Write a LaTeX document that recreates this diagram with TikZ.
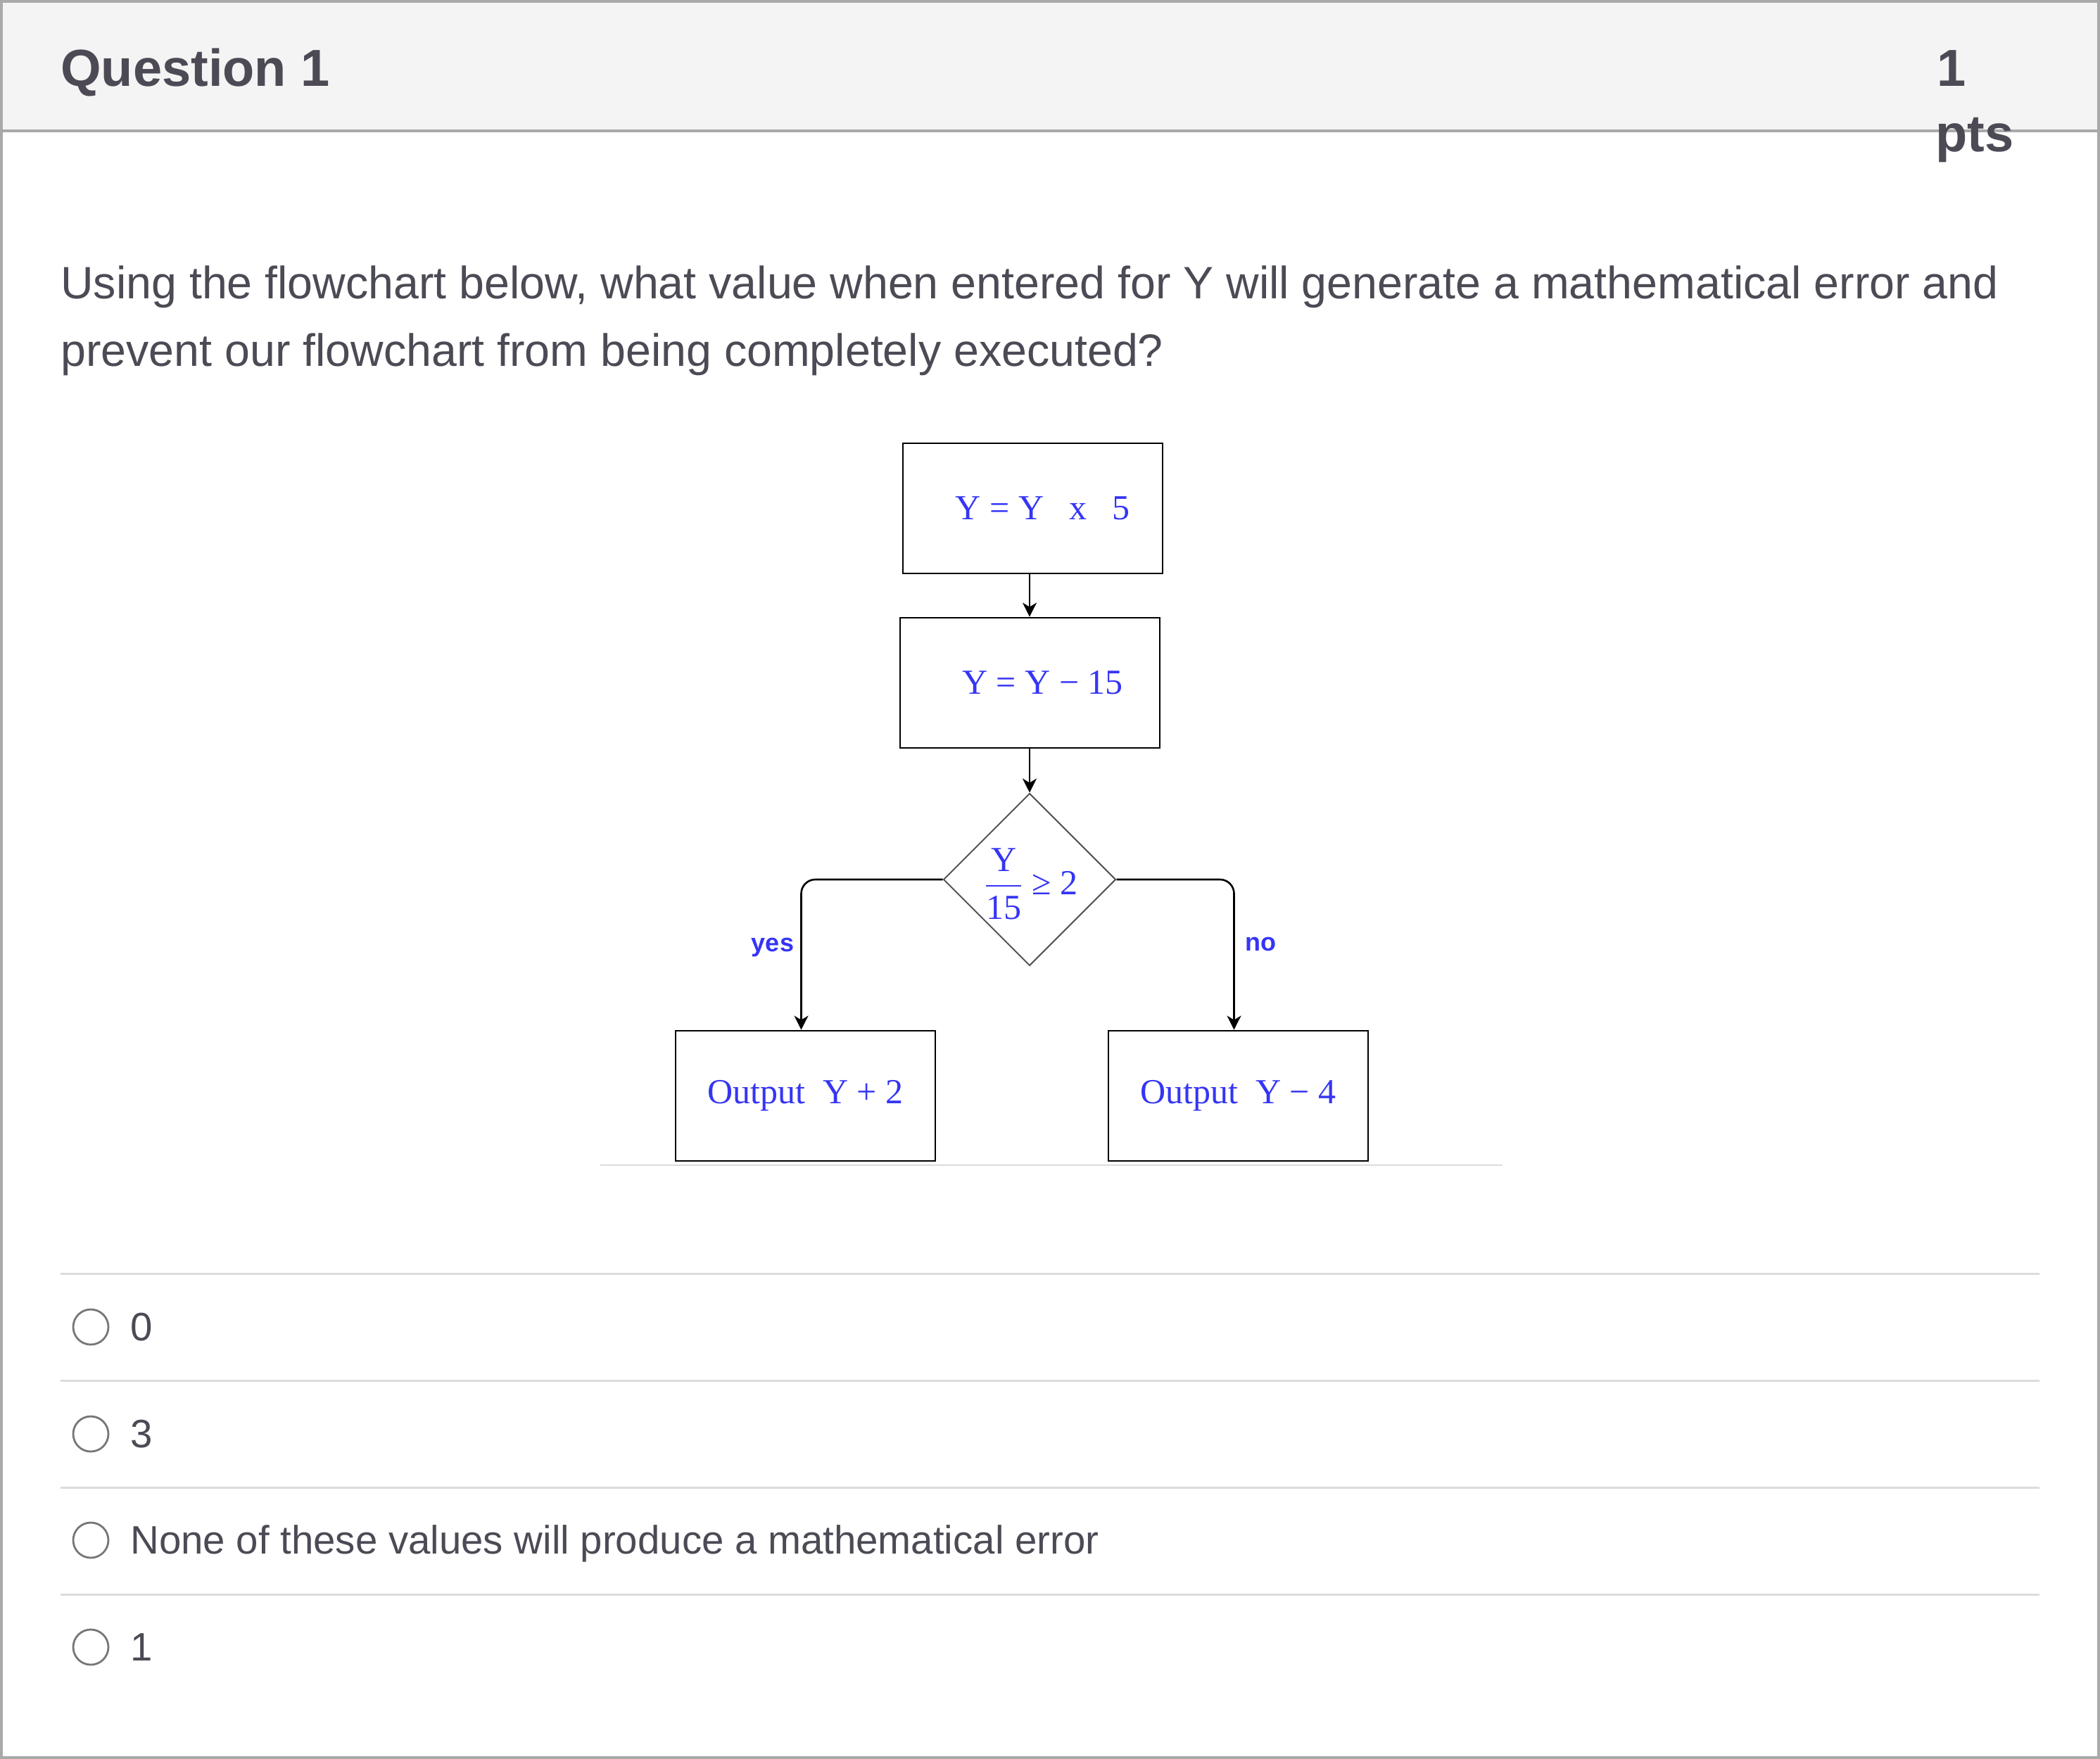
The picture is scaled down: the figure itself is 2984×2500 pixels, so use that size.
\documentclass[tikz,border=0pt]{standalone}
\usepackage{fontspec}
\usepackage{amsmath}
\setmainfont{Liberation Sans}
\newfontfamily\flowfont{Liberation Serif}
\usetikzlibrary{arrows.meta,shapes.geometric}
\definecolor{ink}{HTML}{4D4A55}
\definecolor{framec}{HTML}{A9A9A9}
\definecolor{hdrfill}{HTML}{F4F4F4}
\definecolor{sepc}{HTML}{DCDCDC}
\definecolor{radioc}{HTML}{767676}
\definecolor{fblue}{HTML}{3535F5}
\definecolor{dgray}{HTML}{555555}
\begin{document}
\begin{tikzpicture}[x=0.5pt,y=-0.5pt,
  hdrtext/.style={font=\fontsize{37pt}{44pt}\selectfont\bfseries, text=ink, inner sep=0, anchor=base west},
  qtext/.style={font=\fontsize{32.25pt}{38pt}\selectfont, text=ink, inner sep=0, anchor=base west},
  opttext/.style={font=\fontsize{28.2pt}{34pt}\selectfont, text=ink, inner sep=0, anchor=base west},
  radio/.style={circle, draw=radioc, line width=1.4pt, minimum size=25pt, inner sep=0},
  fbox/.style={rectangle, draw=black, line width=1.4pt, minimum width=184.5pt, minimum height=92.5pt, inner sep=0, font=\flowfont\fontsize{25pt}{30pt}\selectfont, text=fblue},
  decision/.style={diamond, draw=dgray, line width=1pt, minimum width=122.5pt, minimum height=122.5pt, inner sep=0},
  ftext/.style={font=\flowfont\fontsize{25pt}{30pt}\selectfont, text=fblue, inner sep=0},
  lab/.style={font=\fontsize{18pt}{21pt}\selectfont\bfseries, text=fblue, inner sep=0},
  arr/.style={draw=black, line width=1.3pt, -{Stealth[length=10pt,width=10pt,inset=3pt]}},
  sepline/.style={draw=sepc, line width=1.5pt}
]
\useasboundingbox (0,0) rectangle (2984,2500);
% header
\fill[hdrfill] (0,0) rectangle (2984,186);
\draw[framec, line width=1.7pt] (0,186) -- (2984,186);
\draw[framec, line width=2pt] (2,2) rectangle (2982,2498);
\node[hdrtext] (qtitle) at (86,122) {Question 1};
\node[hdrtext] (ptsnum) at (2752,122) {1};
\node[hdrtext] (ptslab) at (2750,215) {pts};
% question
\node[qtext] (q1) at (86,424) {Using the flowchart below, what value when entered for Y will generate a mathematical error and};
\node[qtext] (q2) at (86,520) {prevent our flowchart from being completely executed?};
% flowchart
\node[fbox] (b1) at (1467.5,722.5) {\hspace*{14pt}Y = Y\hspace{18pt}x\hspace{18pt}5};
\node[fbox] (b2) at (1463.5,970.5) {\hspace*{18pt}Y = Y − 15};
\node[decision] (dec) at (1463,1250) {};
\node[ftext] (dectext) at ([yshift=-3pt,xshift=1pt]dec.center) {\(\dfrac{\text{Y}}{\text{15}}\) ≥ 2};
\node[fbox] (b3) at (1144.5,1557.5) {Output\ \ Y + 2};
\node[fbox] (b4) at (1759.5,1557.5) {Output\ \ Y − 4};
\draw[arr] (b1.south -| dec.north) -- (b2.north -| dec.north);
\draw[arr] (b2.south -| dec.north) -- (dec.north);
\draw[arr, rounded corners=10pt] (dec.west) -| ([xshift=-3pt]b3.north);
\draw[arr, rounded corners=10pt] (dec.east) -| ([xshift=-3pt]b4.north);
\node[lab] (yes) at (1098,1347) {yes};
\node[lab] (no) at (1791,1342) {no};
\draw[draw=sepc, line width=1pt] (853,1656) -- (2135,1656);
% options
\draw[sepline] (86,1810) -- (2898,1810);
\draw[sepline] (86,1962) -- (2898,1962);
\draw[sepline] (86,2114) -- (2898,2114);
\draw[sepline] (86,2266) -- (2898,2266);
\node[radio] (r1) at (129,1886) {};
\node[radio] (r2) at (129,2038) {};
\node[radio] (r3) at (129,2189) {};
\node[radio] (r4) at (129,2341) {};
\node[opttext] (o1) at (185,1905) {0};
\node[opttext] (o2) at (185,2057) {3};
\node[opttext] (o3) at (185,2208) {None of these values will produce a mathematical error};
\node[opttext] (o4) at (185,2360) {1};
\end{tikzpicture}
\end{document}
